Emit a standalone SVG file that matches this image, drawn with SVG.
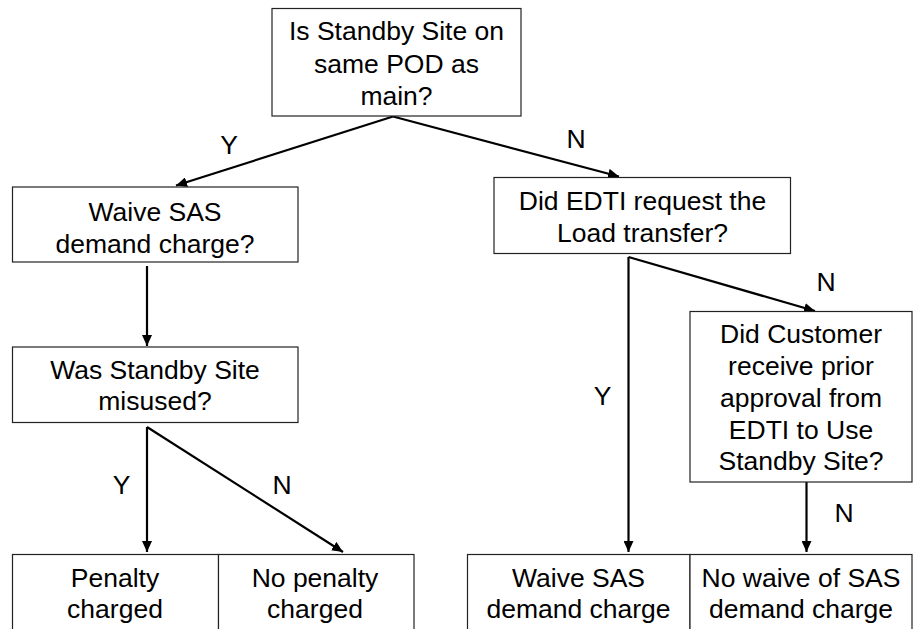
<svg xmlns="http://www.w3.org/2000/svg" width="913" height="629" viewBox="0 0 913 629">
<style>
.box{fill:#fff;stroke:#222;stroke-width:1.2}
.t{font-family:"Liberation Sans",Arial,sans-serif;font-size:26.5px;fill:#000;text-anchor:middle}
.c{fill:none;stroke:#000;stroke-width:2.2}
</style>
<defs>
<marker id="ah" markerUnits="userSpaceOnUse" markerWidth="12" markerHeight="10" refX="11" refY="5" orient="auto">
<path d="M0,0 L11,5 L0,10 Z" fill="#000"/>
</marker>
</defs>
<rect width="913" height="629" fill="#fff"/>
<g id="connectors">
<line class="c" x1="393" y1="116.5" x2="176" y2="185.5" marker-end="url(#ah)"/>
<line class="c" x1="393" y1="116.5" x2="619" y2="176.5" marker-end="url(#ah)"/>
<line class="c" x1="147" y1="266" x2="147" y2="346" marker-end="url(#ah)"/>
<line class="c" x1="147" y1="427" x2="147" y2="552" marker-end="url(#ah)"/>
<line class="c" x1="147" y1="427" x2="343" y2="552" marker-end="url(#ah)"/>
<line class="c" x1="628.5" y1="257" x2="628.5" y2="552" marker-end="url(#ah)"/>
<line class="c" x1="628.5" y1="257" x2="815" y2="311" marker-end="url(#ah)"/>
<line class="c" x1="806.5" y1="482" x2="806.5" y2="552" marker-end="url(#ah)"/>
<text class="t" x="229" y="154">Y</text>
<text class="t" x="576" y="148">N</text>
<text class="t" x="826" y="291">N</text>
<text class="t" x="602.5" y="405">Y</text>
<text class="t" x="121.5" y="494">Y</text>
<text class="t" x="282" y="494">N</text>
<text class="t" x="844" y="522">N</text>
</g>
<g id="q1">
<rect class="box" x="272" y="8.5" width="249" height="107.5"/>
<text class="t" x="396.5" y="40">Is Standby Site on</text>
<text class="t" x="396.5" y="72.5">same POD as</text>
<text class="t" x="396.5" y="104.5">main?</text>
</g>
<g id="q2">
<rect class="box" x="12.5" y="187" width="285.5" height="75"/>
<text class="t" x="155" y="220.5">Waive SAS</text>
<text class="t" x="155" y="252.5">demand charge?</text>
</g>
<g id="q3">
<rect class="box" x="494" y="177.5" width="296.5" height="76"/>
<text class="t" x="642.5" y="210">Did EDTI request the</text>
<text class="t" x="642.5" y="241.5">Load transfer?</text>
</g>
<g id="q4">
<rect class="box" x="12.5" y="347" width="285.5" height="75.5"/>
<text class="t" x="155" y="378.5">Was Standby Site</text>
<text class="t" x="155" y="410">misused?</text>
</g>
<g id="q5">
<rect class="box" x="690" y="311.5" width="222" height="170.5"/>
<text class="t" x="801" y="343">Did Customer</text>
<text class="t" x="801" y="375">receive prior</text>
<text class="t" x="801" y="406.5">approval from</text>
<text class="t" x="801" y="438.5">EDTI to Use</text>
<text class="t" x="801" y="470">Standby Site?</text>
</g>
<g id="r1">
<rect class="box" x="12.5" y="554.5" width="206" height="90"/>
<text class="t" x="115" y="586.5">Penalty</text>
<text class="t" x="115" y="618">charged</text>
</g>
<g id="r2">
<rect class="box" x="218.5" y="554.5" width="195.5" height="90"/>
<text class="t" x="315" y="586.5">No penalty</text>
<text class="t" x="315" y="618">charged</text>
</g>
<g id="r3">
<rect class="box" x="467.5" y="554.5" width="222.5" height="90"/>
<text class="t" x="578.5" y="586.5">Waive SAS</text>
<text class="t" x="578.5" y="618">demand charge</text>
</g>
<g id="r4">
<rect class="box" x="690" y="554.5" width="222" height="90"/>
<text class="t" x="801" y="586.5">No waive of SAS</text>
<text class="t" x="801" y="618">demand charge</text>
</g>
</svg>
